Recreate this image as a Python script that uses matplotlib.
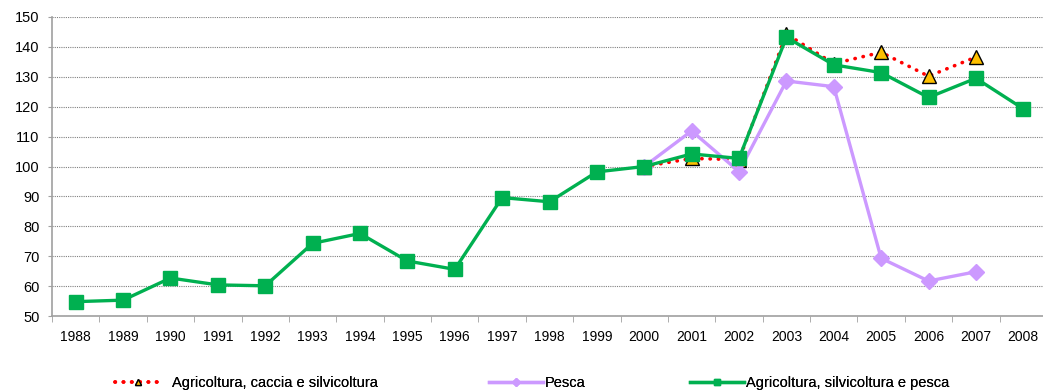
import matplotlib
matplotlib.use("Agg")
import matplotlib.pyplot as plt
from matplotlib.ticker import FixedLocator, MultipleLocator

plt.rcParams['font.family'] = ['Liberation Sans', 'DejaVu Sans']

years = [str(y) for y in range(1988, 2009)]

# Index numbers (2000 = 100)
agri_caccia_silv = [100.0, 102.7, 102.3, 144.3, 134.4, 138.2, 130.2, 136.6]   # 2000-2007
pesca = [100.0, 111.9, 98.3, 128.6, 126.7, 69.3, 61.7, 64.8]                   # 2000-2007
agri_silv_pesca = [54.8, 55.3, 62.7, 60.4, 60.1, 74.3, 77.6, 68.4, 65.6, 89.6,
                   88.2, 98.2, 100.0, 104.2, 102.7, 143.2, 134.0, 131.4, 123.1,
                   129.5, 119.3]                                               # 1988-2008

start_2000 = years.index("2000")

W, H = 1043, 392
fig = plt.figure(figsize=(W / 100, H / 100), dpi=100)
ax = fig.add_axes([52 / W, 1 - 316 / H, 995 / W, 299 / H])

x_all = list(range(len(years)))
x_sub = list(range(start_2000, start_2000 + len(pesca)))

l_red, = ax.plot(x_sub, agri_caccia_silv, color='#FF0000', lw=2.6,
                 linestyle=(0, (0.1, 2.2)), dash_capstyle='round',
                 marker='^', markersize=10, markerfacecolor='#FFC000',
                 markeredgecolor='black', markeredgewidth=1.0,
                 label='Agricoltura, caccia e silvicoltura', zorder=3)
l_pink, = ax.plot(x_sub, pesca, color='#CC99FF', lw=2.4, marker='D', markersize=8,
                  markerfacecolor='#CC99FF', markeredgecolor='#CC99FF',
                  label='Pesca', zorder=4)
l_green, = ax.plot(x_all, agri_silv_pesca, color='#00B050', lw=2.4, marker='s',
                   markersize=10, markerfacecolor='#00B050', markeredgecolor='#00B050',
                   label='Agricoltura, silvicoltura e pesca', zorder=5)

ax.set_xlim(-0.5, len(years) - 0.5)
ax.set_ylim(50, 150)
ax.yaxis.set_major_locator(MultipleLocator(10))
ax.grid(axis='y', color='#808080', linestyle=(0, (1, 1)), linewidth=0.8)
ax.set_axisbelow(True)

ax.set_xticks(x_all)
ax.set_xticklabels(years)
ax.xaxis.set_minor_locator(FixedLocator([i - 0.5 for i in range(len(years) + 1)]))
ax.tick_params(axis='x', which='major', length=0, pad=10, labelsize=10)
ax.tick_params(axis='x', which='minor', length=4, color='#A0A0A0', direction='out')
ax.tick_params(axis='y', length=3, color='#A0A0A0', pad=6, labelsize=10.5)

for side in ('top', 'right'):
    ax.spines[side].set_visible(False)
for side in ('left', 'bottom'):
    ax.spines[side].set_color('#A0A0A0')
    ax.spines[side].set_linewidth(1.2)

# One legend entry per series, each placed on its own along the bottom
legend_y = 1 - 383 / H
entries = [
    (l_red, 115, 3.2, 0.7),
    (l_pink, 489, 3.7, 0.15),
    (l_green, 690, 3.7, 0.15),
]
for handle, x0, hlen, tpad in entries:
    leg = fig.legend([handle], [handle.get_label()], loc='center left',
                     bbox_to_anchor=(x0 / W, legend_y), frameon=False,
                     fontsize=10.5, handlelength=hlen, handletextpad=tpad,
                     borderpad=0, borderaxespad=0, markerscale=0.5)
    fig.add_artist(leg)

fig.savefig('out.png', dpi=100)
